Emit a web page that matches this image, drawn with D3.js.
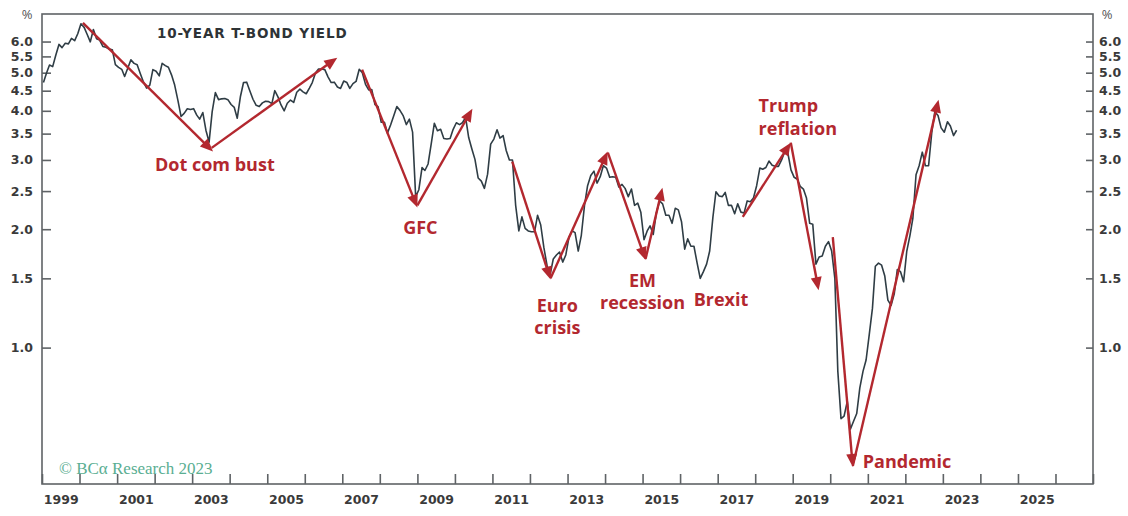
<!DOCTYPE html>
<meta charset="utf-8">
<style>
body, html {
  margin: 0;
  padding: 0;
  background: #fff;
}
.axis text {
  font: 700 12.5px "DejaVu Sans", sans-serif;
  fill: #3a3a3a;
}
.axis path, .axis line {
  stroke: #5f6366;
  stroke-width: 1.6px;
}
.event {
  font: 700 18px "Open Sans", sans-serif;
  fill: #b3282f;
}
.title {
  font: 700 13.5px "DejaVu Sans", sans-serif;
  letter-spacing: 0.9px;
  fill: #2e3336;
}
.copy {
  font: 17px "Liberation Serif", serif;
  fill: #5aae92;
}
.pct {
  font: 13px "Open Sans", sans-serif;
  fill: #555;
}
</style>
<div id="chart"></div>
<script src="https://d3js.org/d3.v7.min.js"></script>
<script>
// monthly 10-year treasury yield, Jan 1999 .. May 2023
const yields = [
  4.72, 5.00, 5.23, 5.18, 5.54, 5.90, 5.79, 5.94, 5.92, 6.11, 6.03, 6.28,
  6.66, 6.52, 6.26, 5.99, 6.44, 6.10, 6.05, 5.83, 5.80, 5.74, 5.72, 5.24,
  5.16, 5.10, 4.89, 5.14, 5.39, 5.28, 5.24, 4.97, 4.73, 4.57, 4.65, 5.09,
  5.04, 4.91, 5.28, 5.21, 5.16, 4.93, 4.65, 4.26, 3.87, 3.94, 4.05, 4.03,
  4.05, 3.90, 3.81, 3.96, 3.57, 3.33, 3.98, 4.45, 4.27, 4.29, 4.30, 4.27,
  4.15, 4.08, 3.83, 4.35, 4.72, 4.73, 4.50, 4.28, 4.13, 4.10, 4.19, 4.23,
  4.22, 4.17, 4.50, 4.34, 4.14, 4.00, 4.18, 4.26, 4.20, 4.46, 4.54, 4.47,
  4.42, 4.57, 4.72, 4.99, 5.11, 5.11, 5.09, 4.88, 4.72, 4.73, 4.60, 4.56,
  4.76, 4.72, 4.56, 4.69, 4.75, 5.10, 5.00, 4.67, 4.52, 4.53, 4.15, 4.10,
  3.74, 3.74, 3.51, 3.68, 3.88, 4.10, 4.01, 3.89, 3.69, 3.81, 3.53, 2.42,
  2.52, 2.87, 2.82, 2.93, 3.29, 3.72, 3.56, 3.59, 3.40, 3.39, 3.40, 3.59,
  3.73, 3.69, 3.73, 3.85, 3.42, 3.20, 3.01, 2.70, 2.65, 2.54, 2.76, 3.29,
  3.39, 3.58, 3.41, 3.46, 3.17, 3.00, 3.00, 2.30, 1.98, 2.15, 2.01, 1.98,
  1.97, 1.97, 2.17, 2.05, 1.80, 1.62, 1.53, 1.68, 1.72, 1.75, 1.65, 1.72,
  1.91, 1.98, 1.96, 1.76, 1.93, 2.30, 2.58, 2.74, 2.81, 2.62, 2.72, 2.90,
  2.86, 2.71, 2.72, 2.71, 2.56, 2.60, 2.54, 2.42, 2.53, 2.30, 2.33, 2.21,
  1.88, 1.98, 2.04, 1.94, 2.20, 2.36, 2.32, 2.17, 2.17, 2.07, 2.26, 2.24,
  2.09, 1.78, 1.89, 1.81, 1.81, 1.64, 1.50, 1.56, 1.63, 1.76, 2.14, 2.49,
  2.43, 2.42, 2.48, 2.30, 2.30, 2.19, 2.32, 2.21, 2.20, 2.36, 2.35, 2.40,
  2.58, 2.86, 2.84, 2.87, 2.98, 2.91, 2.89, 2.89, 3.00, 3.15, 3.12, 2.83,
  2.71, 2.68, 2.57, 2.53, 2.40, 2.07, 2.06, 1.63, 1.70, 1.71, 1.81, 1.86,
  1.76, 1.50, 0.87, 0.66, 0.67, 0.73, 0.62, 0.65, 0.68, 0.79, 0.87, 0.93,
  1.08, 1.26, 1.61, 1.64, 1.62, 1.52, 1.32, 1.28, 1.37, 1.58, 1.56, 1.47,
  1.76, 1.93, 2.13, 2.75, 2.90, 3.14, 2.90, 2.90, 3.52, 3.98, 3.89, 3.62,
  3.53, 3.75, 3.66, 3.46, 3.57
];
const firstYear = 1999;
const yTicks = [1.0, 1.5, 2.0, 2.5, 3.0, 3.5, 4.0, 4.5, 5.0, 5.5, 6.0];

// arrows: [from date, from value, to date, to value]
const arrows = [
  ["2000-02-03", 6.69, "2003-07-23", 3.15],
  ["2003-07-10", 3.22, "2006-11-13", 5.46],
  ["2007-07-13", 5.09, "2009-01-01", 2.27],
  ["2009-01-01", 2.30, "2010-06-20", 4.05],
  ["2011-07-13", 2.97, "2012-07-20", 1.49],
  ["2012-07-20", 1.50, "2014-01-26", 3.15],
  ["2014-01-28", 3.13, "2015-01-30", 1.67],
  ["2015-01-30", 1.68, "2015-07-13", 2.55],
  ["2017-09-02", 2.15, "2018-12-13", 3.32],
  ["2018-12-13", 3.32, "2019-09-10", 1.40],
  ["2020-01-26", 1.91, "2020-08-08", 0.497],
  ["2020-08-08", 0.50, "2022-11-20", 4.27]
];
const eventNames = ["Dot com bust", "GFC", "Euro\ncrisis", "EM\nrecession", "Brexit", "Trump\nreflation", "Pandemic"];
const eventDates = ["2003-08-10", "2009-01-30", "2012-09-24", "2015-01-01", "2016-05-12", "2018-02-03", "2020-11-13"];
const eventValues = [2.92, 2.02, 1.28, 1.48, 1.32, 4.12, 0.513];
const leftAligned = new Set(["Brexit", "Trump\nreflation", "Pandemic"]);

const width = 1128, height = 516;
const plotL = 42, plotR = 1093, plotT = 14, plotB = 484;
const parse = d3.timeParse("%Y-%m-%d");
const red = "#b3282f";

const svg = d3.select("#chart").append("svg")
    .attr("width", width)
    .attr("height", height);

const x = d3.scaleTime()
    .domain([new Date(firstYear, 0, 1), new Date(2027, 0, 1)])
    .range([plotL, plotR]);
const y = d3.scaleLog()
    .domain([0.45, 7.05])
    .range([plotB, plotT]);

// frame
svg.append("rect")
    .attr("x", plotL).attr("y", plotT)
    .attr("width", plotR - plotL).attr("height", plotB - plotT)
    .attr("fill", "none").attr("stroke", "#5f6366").attr("stroke-width", 1.6);

// y axes, ticks pointing inward
const yl = svg.append("g").attr("class", "axis")
    .attr("transform", `translate(${plotL},0)`)
    .call(d3.axisLeft(y).tickValues(yTicks).tickFormat(d3.format(".1f")).tickSize(-9).tickPadding(9));
const yr = svg.append("g").attr("class", "axis")
    .attr("transform", `translate(${plotR},0)`)
    .call(d3.axisRight(y).tickValues(yTicks).tickFormat(d3.format(".1f")).tickSize(-7).tickPadding(6));
[yl, yr].forEach(g => g.select(".domain").remove());

svg.append("text").attr("class", "pct")
    .attr("x", 27).attr("y", 19).attr("text-anchor", "middle").text("%");
svg.append("text").attr("class", "pct")
    .attr("x", 1107).attr("y", 19).attr("text-anchor", "middle").text("%");

// x axis: yearly ticks inward, labels centred in odd years
const xt = svg.append("g").attr("class", "axis")
    .attr("transform", `translate(0,${plotB})`)
    .call(d3.axisBottom(x).ticks(d3.timeYear.every(1)).tickSize(-10).tickFormat(""));
xt.select(".domain").remove();
const xl = svg.append("g").attr("class", "axis")
    .attr("transform", `translate(0,${plotB})`)
    .call(d3.axisBottom(x)
      .tickValues(d3.range(firstYear, 2027, 2).map(yy => new Date(yy, 6, 2)))
      .tickFormat(d3.timeFormat("%Y")).tickSize(0).tickPadding(11));
xl.select(".domain").remove();

// title and credit
svg.append("text").attr("class", "title")
    .attr("x", 157).attr("y", 38).text("10-YEAR T-BOND YIELD");
svg.append("text").attr("class", "copy")
    .attr("x", 59).attr("y", 474).text("© BCα Research 2023");

// yield line
const line = d3.line()
    .x((d, i) => x(new Date(firstYear, i, 15)))
    .y(d => y(d));
svg.append("path")
    .datum(yields)
    .attr("fill", "none")
    .attr("stroke", "#2f3d45")
    .attr("stroke-width", 1.6)
    .attr("stroke-linejoin", "round")
    .attr("d", line);

// arrows
const head = 13, half = 5.5;
arrows.forEach(a => {
  const x0 = x(parse(a[0])), y0 = y(a[1]), x1 = x(parse(a[2])), y1 = y(a[3]);
  const dx = x1 - x0, dy = y1 - y0, len = Math.hypot(dx, dy);
  const ux = dx / len, uy = dy / len;
  const bx = x1 - ux * head, by = y1 - uy * head;
  svg.append("line")
      .attr("x1", x0).attr("y1", y0)
      .attr("x2", x1 - ux * (head - 2)).attr("y2", y1 - uy * (head - 2))
      .attr("stroke", red).attr("stroke-width", 2.4);
  svg.append("path")
      .attr("d", `M${x1},${y1}L${bx - uy * half},${by + ux * half}L${bx + uy * half},${by - ux * half}Z`)
      .attr("fill", red);
});

// event labels
eventNames.forEach((name, i) => {
  const t = svg.append("text").attr("class", "event")
      .attr("x", x(parse(eventDates[i])))
      .attr("y", y(eventValues[i]))
      .attr("text-anchor", leftAligned.has(name) ? "start" : "middle");
  name.split("\n").forEach((part, j) => {
    t.append("tspan")
      .attr("x", x(parse(eventDates[i])))
      .attr("dy", j ? "1.25em" : "0.35em")
      .text(part);
  });
});
</script>
